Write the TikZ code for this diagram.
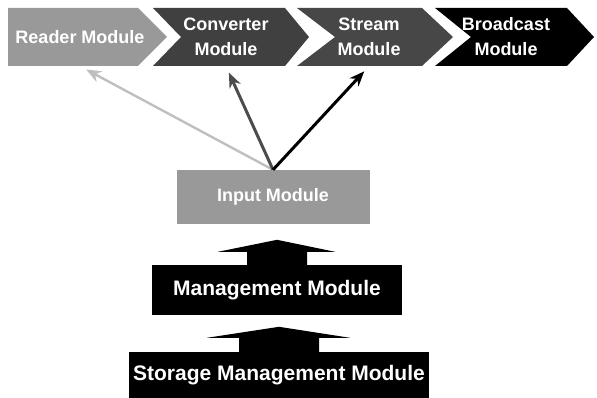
\documentclass[tikz,border=0pt]{standalone}
\usepackage{fontspec}
\setmainfont{Liberation Sans}
\usetikzlibrary{arrows.meta}

\tikzset{
  chevlabel/.style={text=white,font=\bfseries\fontsize{18}{25}\selectfont,align=center,minimum height=58pt,inner sep=0pt},
  modbox/.style={fill=black,text=white,font=\bfseries\fontsize{21}{25}\selectfont,inner sep=0pt},
  link/.style={line width=3pt,-{Stealth[length=15pt,width=12pt]},shorten >=7pt},
}

\begin{document}
\begin{tikzpicture}[x=1pt,y=-1pt]
	\useasboundingbox (0,0) rectangle (597,398);
	% chain of modules
	\fill[black!40] (8,8) -- (138,8) -- (167,37) -- (138,66) -- (8,66) -- cycle;
	\fill[black!75] (153,8) -- (285,8) -- (309,37) -- (285,66) -- (153,66) -- (181,37) -- cycle;
	\fill[black!72] (297,8) -- (422,8) -- (453,37) -- (422,66) -- (297,66) -- (335,37) -- cycle;
	\fill[black] (435,8) -- (567,8) -- (594,37) -- (567,66) -- (435,66) -- (471,37) -- cycle;
	\node[chevlabel] (reader) at (80,37) {Reader Module};
	\node[chevlabel] (converter) at (226,37) {Converter\\Module};
	\node[chevlabel] (stream) at (369,37) {Stream\\Module};
	\node[chevlabel] (broadcast) at (506,37) {Broadcast\\Module};
	% stack
	\node[modbox,fill=black!40,font=\bfseries\fontsize{18}{22}\selectfont,minimum width=193pt,minimum height=54pt] (input) at (273,197) {Input Module};
	\node[modbox,minimum width=250pt,minimum height=50pt] (mgmt) at (277,290) {Management Module};
	\node[modbox,minimum width=300pt,minimum height=46pt] (stor) at (279,375) {Storage Management Module};
	\fill (mgmt.north) ++(-30,0) -- ++(0,-13) -- ++(-29,0) -- ++(59,-12) -- ++(58,12) -- ++(-28,0) -- ++(0,13) -- cycle;
	\fill (stor.north) ++(-40,0) -- ++(0,-14) -- ++(-32,0) -- ++(72,-11) -- ++(71,11) -- ++(-31,0) -- ++(0,14) -- cycle;
	% links
	\draw[link,black!25,line width=2.4pt] (input.north) -- (reader.south);
	\draw[link,black!70] (input.north) -- (converter.south);
	\draw[link,black] (input.north) -- (stream.south);
\end{tikzpicture}
\end{document}
